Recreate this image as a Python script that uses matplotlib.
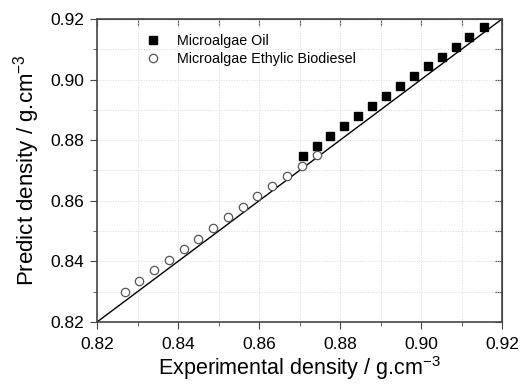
import numpy as np
import matplotlib
matplotlib.use("Agg")
import matplotlib.pyplot as plt
from matplotlib.ticker import MultipleLocator

plt.rcParams['font.family'] = ['Liberation Sans', 'DejaVu Sans']
plt.rcParams['mathtext.fontset'] = 'custom'
plt.rcParams['mathtext.rm'] = 'Liberation Sans'
plt.rcParams['mathtext.it'] = 'Liberation Sans'

# Microalgae oil (experimental, predicted)
oil_x = [0.8708, 0.8743, 0.8776, 0.8811, 0.8844, 0.8880, 0.8914,
         0.8947, 0.8982, 0.9017, 0.9051, 0.9086, 0.9119, 0.9155]
oil_y = [0.8749, 0.8781, 0.8814, 0.8847, 0.8881, 0.8914, 0.8946,
         0.8979, 0.9012, 0.9044, 0.9076, 0.9108, 0.9141, 0.9172]

# Microalgae ethylic biodiesel
bio_x = [0.8268, 0.8304, 0.8341, 0.8378, 0.8414, 0.8450, 0.8486, 0.8523,
         0.8560, 0.8596, 0.8633, 0.8669, 0.8706, 0.8743]
bio_y = [0.8300, 0.8335, 0.8370, 0.8406, 0.8441, 0.8474, 0.8509, 0.8545,
         0.8580, 0.8616, 0.8650, 0.8683, 0.8716, 0.8751]

lims = [0.82, 0.92]

fig = plt.figure(figsize=(5.2, 3.87), dpi=100)
ax = fig.add_axes([97/520, 1 - 322/387, 405/520, 303/387])

ax.plot(lims, lims, color='black', lw=1.0, zorder=2)
ax.plot(oil_x, oil_y, 's', ms=5.2, color='black', label='Microalgae Oil', zorder=3)
ax.plot(bio_x, bio_y, 'o', ms=6, mfc='white', mec='#555555', mew=0.9,
        label='Microalgae Ethylic Biodiesel', zorder=3)

ax.set_xlim(lims)
ax.set_ylim(lims)
ax.xaxis.set_major_locator(MultipleLocator(0.02))
ax.xaxis.set_minor_locator(MultipleLocator(0.01))
ax.yaxis.set_major_locator(MultipleLocator(0.02))
ax.yaxis.set_minor_locator(MultipleLocator(0.01))
ax.xaxis.set_major_formatter(plt.FormatStrFormatter('%.2f'))
ax.yaxis.set_major_formatter(plt.FormatStrFormatter('%.2f'))

ax.grid(which='both', color='#dadada', linestyle=':', lw=0.7)
ax.set_axisbelow(True)

ax.tick_params(which='both', direction='out', top=False, right=False,
               labelsize=12.5, color='#444444')
ax.tick_params(which='major', length=5)
ax.tick_params(which='minor', length=3)
ax.tick_params(axis='x', which='major', pad=6)
ax.tick_params(axis='y', which='major', pad=4)

ax2 = ax.secondary_xaxis('top')
ax2.xaxis.set_major_locator(MultipleLocator(0.01))
ax2.tick_params(direction='in', length=5, labeltop=False, color='#444444')
ax3 = ax.secondary_yaxis('right')
ax3.yaxis.set_major_locator(MultipleLocator(0.01))
ax3.tick_params(direction='in', length=5, labelright=False, color='#444444')

for s in ax.spines.values():
    s.set_color('#444444')
    s.set_linewidth(1.2)
ax2.spines['top'].set_color('#444444')
ax3.spines['right'].set_color('#444444')

ax.set_xlabel('Experimental density / g.cm$^{-3}$', fontsize=15.5, labelpad=1)
ax.set_ylabel('Predict density / g.cm$^{-3}$', fontsize=16, labelpad=6)

ax.legend(loc='upper left', bbox_to_anchor=(0.09, 0.97), frameon=False,
          fontsize=10.3, handletextpad=0.65, labelspacing=0.3, borderaxespad=0)

fig.savefig('out.png', dpi=100)
